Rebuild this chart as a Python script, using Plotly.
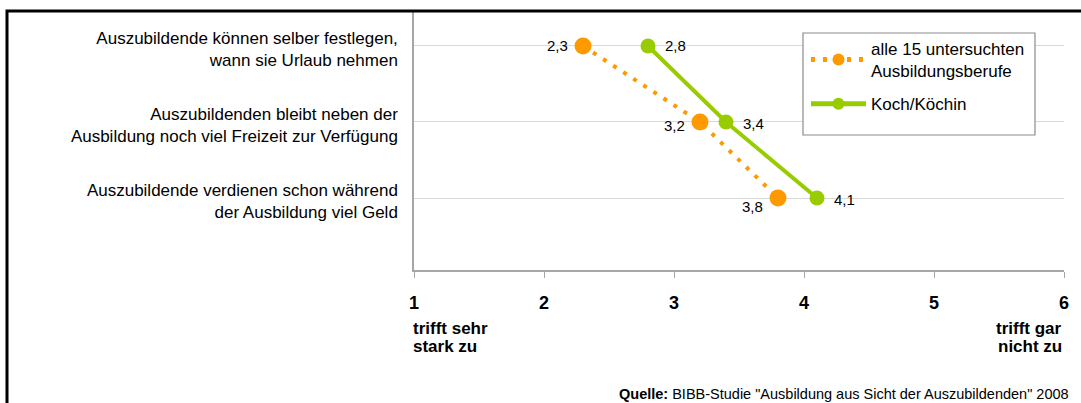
import plotly.graph_objects as go

statements = [
    "Auszubildende können selber festlegen,<br>wann sie Urlaub nehmen",
    "Auszubildenden bleibt neben der<br>Ausbildung noch viel Freizeit zur Verfügung",
    "Auszubildende verdienen schon während<br>der Ausbildung viel Geld",
]
alle_values = [2.3, 3.2, 3.8]
koch_values = [2.8, 3.4, 4.1]
x_ticks = [1, 2, 3, 4, 5, 6]

def fmt(v):
    return f"{v:.1f}".replace(".", ",")

FONT = "Liberation Sans, Arial, sans-serif"
ORANGE = "#FF9900"
GREEN = "#99CC00"
W, H = 1081, 403
L, R, T, B = 414, 17, 11, 133
PW, PH = W - L - R, H - T - B

def px(pix):
    return (pix - L) / PW

def py(pix):
    return 1 - (pix - T) / PH

fig = go.Figure()
fig.add_trace(go.Scatter(
    x=alle_values, y=statements, mode="lines+markers",
    name="alle 15 untersuchten<br>Ausbildungsberufe", legendgroup="a",
    line=dict(color=ORANGE, width=4, dash="4px,8px"),
    marker=dict(color=ORANGE, size=17),
))
fig.add_trace(go.Scatter(
    x=koch_values, y=statements, mode="lines+markers",
    name="Koch/Köchin", legendgroup="b",
    line=dict(color=GREEN, width=4),
    marker=dict(color=GREEN, size=15),
))

# value labels
alle_yshift = [0, -4, -8]
koch_yshift = [0, -2, -1]
for v, s, ys in zip(alle_values, statements, alle_yshift):
    fig.add_annotation(x=v, y=s, text=fmt(v), showarrow=False, xanchor="right",
                       xshift=-13, yshift=ys, font=dict(family=FONT, size=15, color="#000000"))
for v, s, ys in zip(koch_values, statements, koch_yshift):
    fig.add_annotation(x=v, y=s, text=fmt(v), showarrow=False, xanchor="left",
                       xshift=15, yshift=ys, font=dict(family=FONT, size=15, color="#000000"))

fig.update_layout(
    width=W, height=H,
    margin=dict(l=L, r=R, t=T, b=B),
    paper_bgcolor="white", plot_bgcolor="white",
    font=dict(family=FONT, size=15, color="#000000"),
    showlegend=True,
    legend=dict(
        x=px(806), y=py(31), xanchor="left", yanchor="top",
        borderwidth=0, bgcolor="rgba(0,0,0,0)",
        font=dict(family=FONT, size=17, color="#000000"),
        itemwidth=55, tracegroupgap=8, itemsizing="constant",
    ),
    xaxis=dict(
        range=[1, 6], tickvals=x_ticks, ticktext=[str(t) for t in x_ticks],
        showgrid=False, zeroline=False,
        showline=True, linecolor="#A6A6A6", linewidth=1.5,
        ticks="outside", ticklen=6, tickcolor="#A6A6A6", tickwidth=1,
        tickfont=dict(family=FONT, size=18, color="#000000", weight="bold"),
        ticklabelstandoff=10,
    ),
    yaxis=dict(
        type="category", categoryorder="array",
        categoryarray=list(reversed(statements)),
        range=[-0.947, 2.46],
        showgrid=True, gridcolor="#D9D9D9", gridwidth=1,
        showline=True, linecolor="#A6A6A6", linewidth=1.5,
        ticks="", ticklabelstandoff=11, ticklabelshift=3,
        tickfont=dict(family=FONT, size=17, color="#000000"),
    ),
)

for txt, yy in [("trifft sehr", 328), ("stark zu", 346)]:
    fig.add_annotation(x=1, y=py(yy), xref="x", yref="paper", xanchor="left", yanchor="middle",
                       xshift=-3, text=f"<b>{txt}</b>", showarrow=False,
                       font=dict(family=FONT, size=17, color="#000000"))
for txt, yy in [("trifft gar", 328), ("nicht zu", 346)]:
    fig.add_annotation(x=6, y=py(yy), xref="x", yref="paper", xanchor="right", yanchor="middle",
                       text=f"<b>{txt}</b>", showarrow=False,
                       font=dict(family=FONT, size=17, color="#000000"))
fig.add_annotation(x=px(1071), y=py(394), xref="paper", yref="paper", xanchor="right", yanchor="middle",
                   text="<b>Quelle:</b> BIBB-Studie \"Ausbildung aus Sicht der Auszubildenden\" 2008",
                   showarrow=False, font=dict(family=FONT, size=14.5, color="#000000"))

# legend frame
fig.add_shape(type="rect", xref="paper", yref="paper",
              x0=px(803), x1=px(1035), y0=py(135), y1=py(33),
              line=dict(color="#8C8C8C", width=1.2), fillcolor="white", layer="above")

# outer black frame (cut off at right and bottom, as in the original)
fig.add_shape(type="rect", xref="paper", yref="paper",
              x0=px(7), x1=1.5, y0=-1.0, y1=1.0,
              line=dict(color="black", width=3), fillcolor="rgba(0,0,0,0)", layer="above")

fig.write_html("out.html", config={"displayModeBar": False},
               post_script="document.body.style.margin='0';")
